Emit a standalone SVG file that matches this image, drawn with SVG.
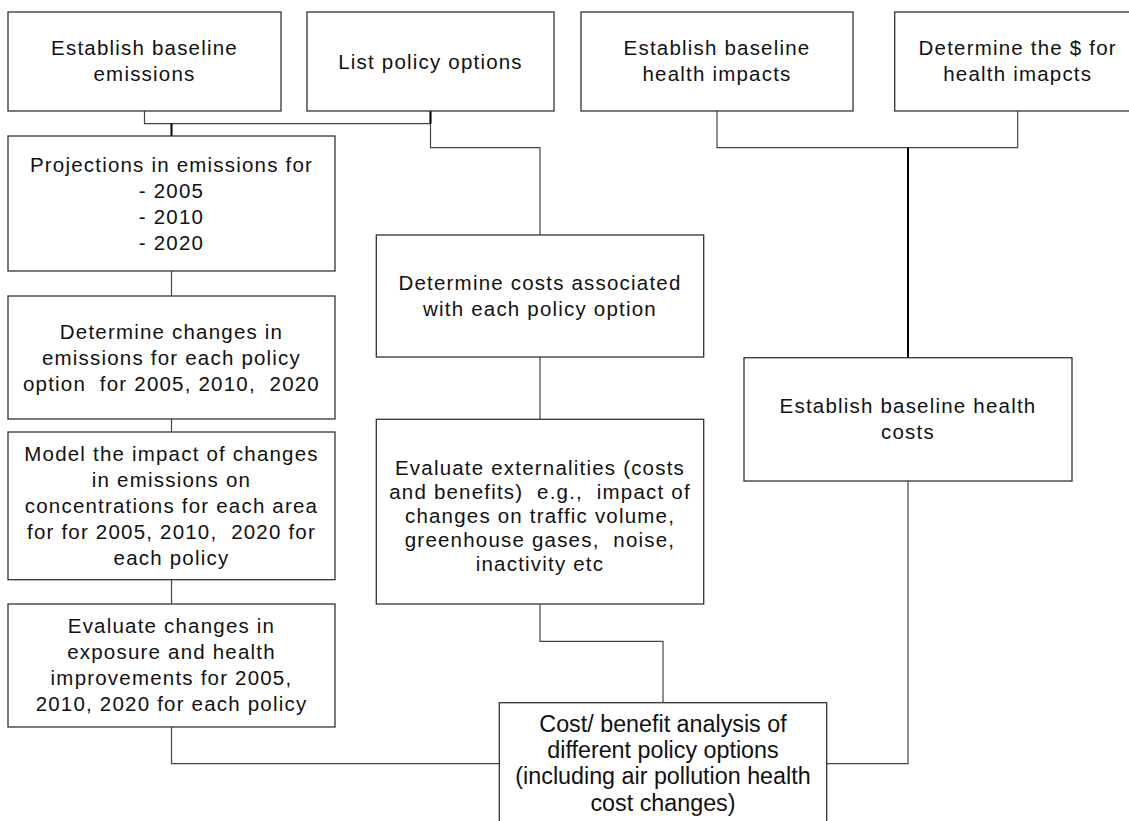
<svg xmlns="http://www.w3.org/2000/svg" width="1129" height="821" viewBox="0 0 1129 821">
<style>
.box{fill:#fff;stroke:#333;stroke-width:1.3}
.t{font-family:"Liberation Sans",Arial,sans-serif;font-size:20.5px;letter-spacing:1.2px;fill:#111;text-anchor:middle;white-space:pre}
.cb{font-size:23.3px;letter-spacing:0px}
.c{fill:none;stroke:#444;stroke-width:1.2}
.k{fill:none;stroke:#000;stroke-width:2}
</style>
<rect width="1129" height="821" fill="#fff"/>
<g id="connectors">
<path class="c" d="M144.5,111 V123.7 H430.5"/>
<path class="c" d="M430.5,111 V147.7 H540 V235"/>
<path class="k" d="M430.5,111 V123.7"/>
<path class="k" d="M171.5,123.7 V136"/>
<path class="c" d="M171.5,271 V296"/>
<path class="c" d="M171.5,419 V432"/>
<path class="c" d="M171.5,579.7 V604"/>
<path class="c" d="M171.5,727 V763.7 H499.3"/>
<path class="c" d="M540,357 V419.3"/>
<path class="c" d="M540,604 V641.3 H663 V702.7"/>
<path class="c" d="M717,111 V147.7 H1017.7 V111"/>
<path class="k" d="M908,147.7 V357.7"/>
<path class="c" d="M908,481 V763.7 H826.7"/>
</g>
<g id="n-baseline-emissions">
<rect class="box" x="8" y="12" width="273" height="99"/>
<text class="t" x="144.5" y="55" xml:space="preserve">Establish baseline</text>
<text class="t" x="144.5" y="81" xml:space="preserve">emissions</text>
</g>
<g id="n-list-policy">
<rect class="box" x="307" y="12" width="247" height="99"/>
<text class="t" x="430.5" y="68.5" xml:space="preserve">List policy options</text>
</g>
<g id="n-baseline-health-impacts">
<rect class="box" x="581" y="12" width="272" height="99"/>
<text class="t" x="717" y="55" xml:space="preserve">Establish baseline</text>
<text class="t" x="717" y="81" xml:space="preserve">health impacts</text>
</g>
<g id="n-dollar-health">
<rect class="box" x="894.7" y="12" width="246" height="99"/>
<text class="t" x="1017.7" y="55" xml:space="preserve">Determine the $ for</text>
<text class="t" x="1017.7" y="81" xml:space="preserve">health imapcts</text>
</g>
<g id="n-projections">
<rect class="box" x="8" y="136" width="327" height="135"/>
<text class="t" x="171.5" y="171.7" xml:space="preserve">Projections in emissions for</text>
<text class="t" x="171.5" y="197.7" xml:space="preserve">- 2005</text>
<text class="t" x="171.5" y="223.7" xml:space="preserve">- 2010</text>
<text class="t" x="171.5" y="249.7" xml:space="preserve">- 2020</text>
</g>
<g id="n-det-changes">
<rect class="box" x="8" y="296" width="327" height="123"/>
<text class="t" x="171.5" y="338.5" xml:space="preserve">Determine changes in</text>
<text class="t" x="171.5" y="364.5" xml:space="preserve">emissions for each policy</text>
<text class="t" x="171.5" y="390.5" xml:space="preserve">option  for 2005, 2010,  2020</text>
</g>
<g id="n-model">
<rect class="box" x="8" y="432" width="327" height="147.7"/>
<text class="t" x="171.5" y="460.8" xml:space="preserve">Model the impact of changes</text>
<text class="t" x="171.5" y="486.8" xml:space="preserve">in emissions on</text>
<text class="t" x="171.5" y="512.8" xml:space="preserve">concentrations for each area</text>
<text class="t" x="171.5" y="538.8" xml:space="preserve">for for 2005, 2010,  2020 for</text>
<text class="t" x="171.5" y="564.8" xml:space="preserve">each policy</text>
</g>
<g id="n-eval-changes">
<rect class="box" x="8" y="604" width="327" height="123"/>
<text class="t" x="171.5" y="633" xml:space="preserve">Evaluate changes in</text>
<text class="t" x="171.5" y="659" xml:space="preserve">exposure and health</text>
<text class="t" x="171.5" y="685" xml:space="preserve">improvements for 2005,</text>
<text class="t" x="171.5" y="711" xml:space="preserve">2010, 2020 for each policy</text>
</g>
<g id="n-det-costs">
<rect class="box" x="376.3" y="235" width="327.4" height="122"/>
<text class="t" x="540" y="290" xml:space="preserve">Determine costs associated</text>
<text class="t" x="540" y="316" xml:space="preserve">with each policy option</text>
</g>
<g id="n-externalities">
<rect class="box" x="376.3" y="419.3" width="327.4" height="184.7"/>
<text class="t" x="540" y="475" xml:space="preserve">Evaluate externalities (costs</text>
<text class="t" x="540" y="499" xml:space="preserve">and benefits)  e.g.,  impact of</text>
<text class="t" x="540" y="523" xml:space="preserve">changes on traffic volume,</text>
<text class="t" x="540" y="547" xml:space="preserve">greenhouse gases,  noise,</text>
<text class="t" x="540" y="571" xml:space="preserve">inactivity etc</text>
</g>
<g id="n-health-costs">
<rect class="box" x="744" y="357.7" width="328" height="123.3"/>
<text class="t" x="908" y="413" xml:space="preserve">Establish baseline health</text>
<text class="t" x="908" y="439" xml:space="preserve">costs</text>
</g>
<g id="n-cost-benefit">
<rect class="box" x="499.3" y="702.7" width="327.4" height="130"/>
<text class="t cb" x="663" y="732.3" xml:space="preserve">Cost/ benefit analysis of</text>
<text class="t cb" x="663" y="758.3" xml:space="preserve">different policy options</text>
<text class="t cb" x="663" y="784.3" xml:space="preserve">(including air pollution health</text>
<text class="t cb" x="663" y="810.5" xml:space="preserve">cost changes)</text>
</g>
</svg>
